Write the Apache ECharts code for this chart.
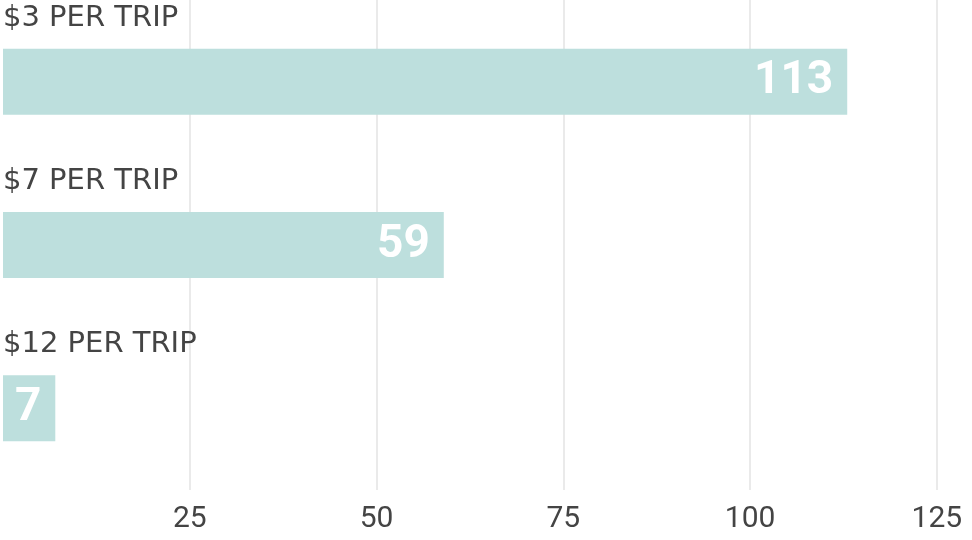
<!DOCTYPE html>
<html>
<head>
<meta charset="utf-8">
<script src="https://cdn.jsdelivr.net/npm/echarts@6/dist/echarts.min.js"></script>
<style>html,body{margin:0;background:#fff}#chart{width:972px;height:540px}</style>
</head>
<body>
<div id="chart"></div>
<script>
// categories and values
let categories = ['$3 PER TRIP', '$7 PER TRIP', '$12 PER TRIP'];
let tripValues = [113, 59, 7];
let tickLabels = [25, 50, 75, 100, 125];

let myChart = echarts.init(document.getElementById('chart'));

let option = {
    animation: false,
    grid: {left: 0, right: 0, top: -16, height: 506, containLabel: false},
    xAxis: {
        type: 'value',
        min: 0,
        max: 129.3,
        interval: 25,
        axisLine: {show: false},
        axisTick: {show: false},
        splitLine: {showMinLine: false, showMaxLine: false, lineStyle: {color: '#e3e3e3', width: 1.5}},
        axisLabel: {
            color: '#444',
            fontSize: 30,
            fontFamily: 'Roboto',
            margin: 14,
            formatter: v => tickLabels.includes(v) ? String(v) : ''
        }
    },
    yAxis: {
        type: 'category',
        inverse: true,
        data: categories,
        axisLine: {show: false},
        axisTick: {show: false},
        axisLabel: {
            inside: true,
            align: 'left',
            verticalAlign: 'bottom',
            padding: [0, 0, 49, 0],
            color: '#444',
            fontSize: 29,
            fontFamily: 'DejaVu Sans',
            margin: 0
        },
        z: 10
    },
    series: [{
        type: 'bar',
        data: tripValues,
        barWidth: 66,
        itemStyle: {color: '#bddfdd'},
        label: {
            show: true,
            position: 'insideRight',
            distance: 14,
            color: '#fff',
            fontSize: 46,
            fontWeight: 'bold',
            fontFamily: 'Roboto'
        }
    }]
};

myChart.setOption(option);
</script>
</body>
</html>
